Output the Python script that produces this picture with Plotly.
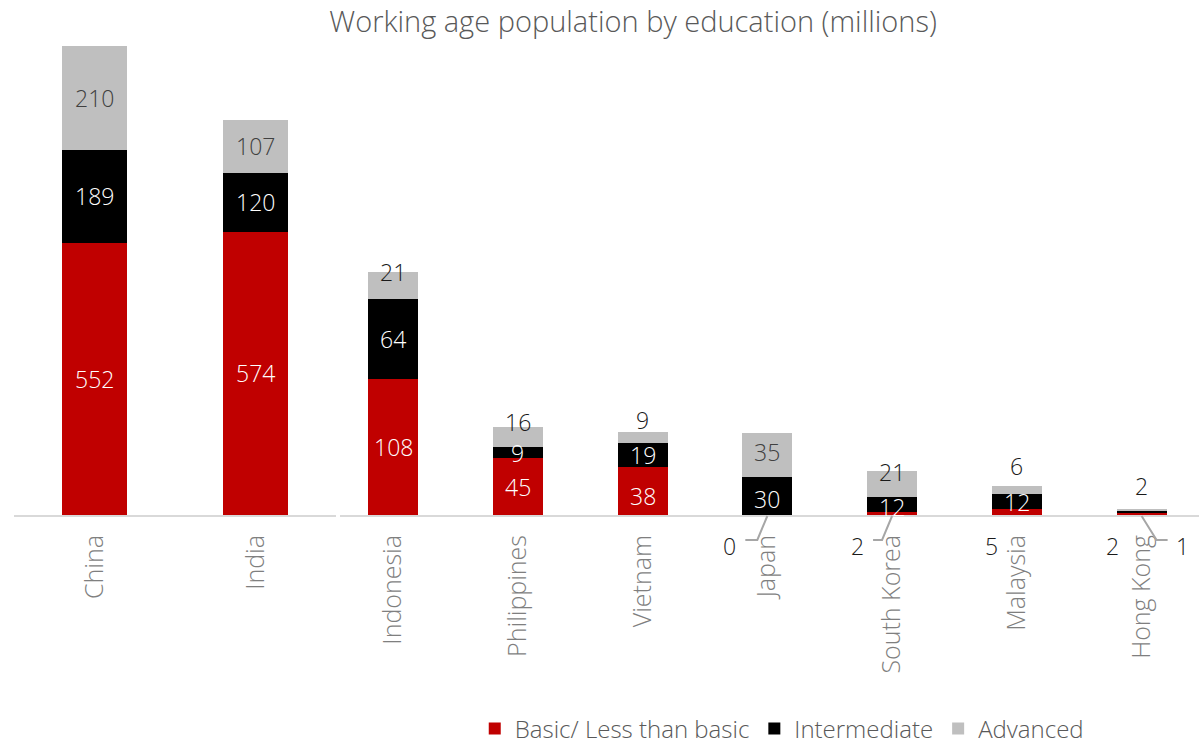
import plotly.graph_objects as go

countries = ["China", "India", "Indonesia", "Philippines", "Vietnam",
             "Japan", "South Korea", "Malaysia", "Hong Kong"]
basic = [552, 574, 108, 45, 38, 0, 2, 5, 2]
intermediate = [189, 120, 64, 9, 19, 30, 12, 12, 1]
advanced = [210, 107, 21, 16, 9, 35, 21, 6, 2]

series = [("Basic/ Less than basic", basic, "#C00000", "white"),
          ("Intermediate", intermediate, "#000000", "white"),
          ("Advanced", advanced, "#BFBFBF", "#404040")]

big = countries[:2]      # drawn on their own, compressed scale
rest = countries[2:]

FONT = "Open Sans"
WT = 300
GREY_TXT = "#595959"
LBL = 23

# label tweaks (pixels, up is positive) for labels Excel moved off-centre
shift_y = {("Indonesia", 2): 14, ("Philippines", 2): 15, ("Vietnam", 0): -5,
           ("Vietnam", 2): 18, ("Japan", 1): -3, ("Japan", 2): 3,
           ("South Korea", 2): 12, ("South Korea", 1): -2,
           ("Malaysia", 2): 24, ("Malaysia", 1): -1, ("Hong Kong", 2): 24}
dark_txt = {("Indonesia", 2), ("Philippines", 2), ("Vietnam", 2),
            ("South Korea", 2), ("Malaysia", 2), ("Hong Kong", 2)}
# labels placed below the axis (x offset in px)
outside = {("Japan", 0): -38, ("South Korea", 0): -35, ("Malaysia", 0): -25,
           ("Hong Kong", 0): -29, ("Hong Kong", 1): 41}
# leader lines: (country, path)
leaders = [("Japan", "M0,-1 L-10,-25 L-22,-25"),
           ("South Korea", "M0,-1 L-10,-25 L-19,-25"),
           ("Hong Kong", "M0,-1 L15,-25 L26,-25")]

fig = go.Figure()
for name, vals, color, txt in series:
    fig.add_trace(go.Bar(x=big, y=vals[:2], name=name, marker_color=color,
                         marker_line_width=0, width=0.4, xaxis="x", yaxis="y",
                         showlegend=False, hoverinfo="skip"))
    fig.add_trace(go.Bar(x=rest, y=vals[2:], name=name, marker_color=color,
                         marker_line_width=0, width=0.4, xaxis="x2", yaxis="y2",
                         hoverinfo="skip"))

annotations = []
for i, c in enumerate(countries):
    ax = "x" if c in big else "x2"
    ay = "y" if c in big else "y2"
    base = 0
    for k, (name, vals, color, txt) in enumerate(series):
        v = vals[i]
        key = (c, k)
        if key in outside:
            annotations.append(dict(x=c, y=0, xref=ax, yref=ay, text=str(v),
                                    showarrow=False, xshift=outside[key], yshift=-31,
                                    font=dict(family=FONT, size=LBL, color="#1a1a1a",
                                              weight=WT)))
        else:
            col = "#1a1a1a" if key in dark_txt else txt
            annotations.append(dict(x=c, y=base + v / 2, xref=ax, yref=ay, text=str(v),
                                    showarrow=False, yshift=shift_y.get(key, 0),
                                    font=dict(family=FONT, size=LBL, color=col,
                                              weight=WT)))
        base += v

shapes = []
for c, path in leaders:
    shapes.append(dict(type="path", xref="x2", yref="paper", xsizemode="pixel",
                       ysizemode="pixel", xanchor=rest.index(c), yanchor=0,
                       path=path, line=dict(color="#A6A6A6", width=2)))

W, H = 1199, 746
tickfont = dict(family=FONT, size=25, color="#7F7F7F", weight=WT)
fig.update_layout(
    width=W, height=H,
    margin=dict(l=0, r=0, t=46, b=230.5, autoexpand=False),
    barmode="stack", plot_bgcolor="white", paper_bgcolor="white",
    font=dict(family=FONT, color=GREY_TXT, weight=WT),
    title=dict(text="Working age population by education (millions)",
               x=0.528, xanchor="center", y=0.971, yanchor="middle",
               font=dict(family=FONT, size=29, color=GREY_TXT, weight=WT)),
    xaxis=dict(domain=[14 / W, 336 / W], range=[-0.5, 1.5], tickangle=-90,
               showline=True, linecolor="#D9D9D9", linewidth=2, ticks="",
               ticklabelstandoff=8, tickfont=tickfont),
    xaxis2=dict(domain=[340 / W, 1], range=[-0.425, 6.46], tickangle=-90,
                showline=True, linecolor="#D9D9D9", linewidth=2, ticks="",
                anchor="y2", ticklabelstandoff=8, tickfont=tickfont),
    yaxis=dict(range=[0, 951], visible=False, showgrid=False),
    yaxis2=dict(range=[0, 373], visible=False, showgrid=False, anchor="x2"),
    legend=dict(orientation="h", x=0.652, xanchor="center", y=-0.456,
                yanchor="middle", traceorder="normal",
                font=dict(family=FONT, size=24, color=GREY_TXT, weight=WT)),
    annotations=annotations, shapes=shapes,
)

fig.write_html("out.html", config={"displayModeBar": False},
               post_script="document.body.style.margin='0';")
